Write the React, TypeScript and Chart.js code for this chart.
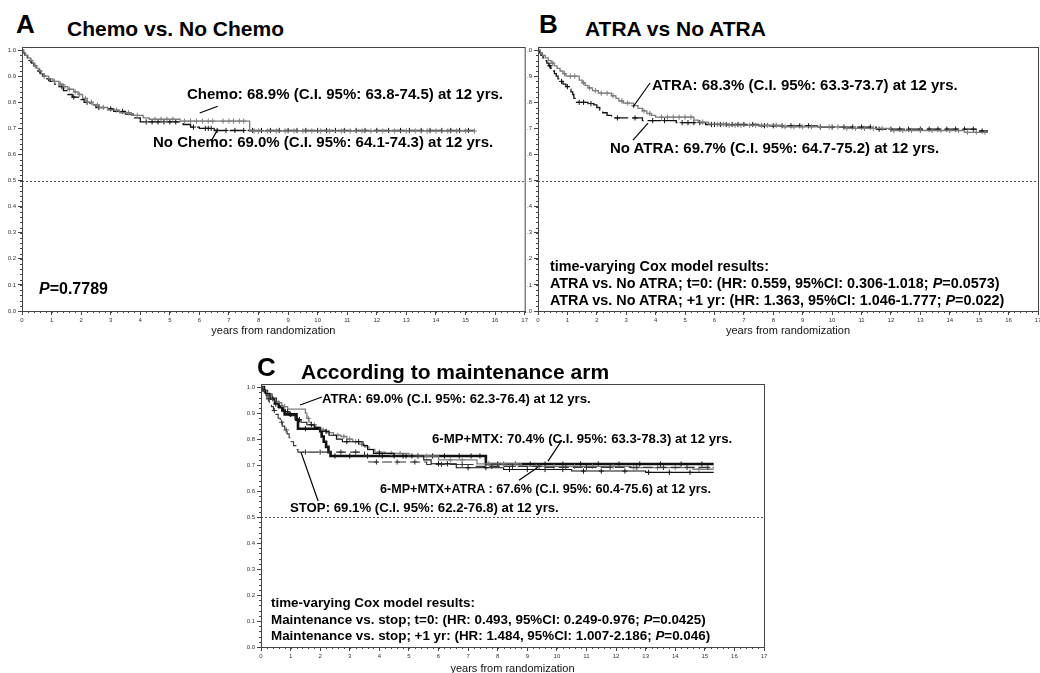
import React, { useEffect, useRef } from 'react';
import { Chart, registerables } from 'chart.js';

Chart.register(...registerables);

const FONT = '"Liberation Sans", Arial, Helvetica, sans-serif';

// ---- shared axes ----
const xTicks = [0, 1, 2, 3, 4, 5, 6, 7, 8, 9, 10, 11, 12, 13, 14, 15, 16, 17];
const yTicks = [0, 0.1, 0.2, 0.3, 0.4, 0.5, 0.6, 0.7, 0.8, 0.9, 1.0];
const Y_MAX = 1.012;
const REF_LINE = 0.5;

// ---- Panel A: Chemo vs. No Chemo ----
const chemoTimes = [0.06, 0.12, 0.2, 0.28, 0.35, 0.42, 0.5, 0.58, 0.65, 0.75, 0.9, 1.05, 1.25, 1.4, 1.55, 1.75, 1.9, 2.05, 2.2, 2.4, 2.6, 2.9, 3.3, 3.7, 4.1, 4.3, 5.35, 7.7];
const chemoSurv = [0.99, 0.98, 0.97, 0.96, 0.95, 0.94, 0.93, 0.92, 0.91, 0.9, 0.89, 0.88, 0.87, 0.86, 0.85, 0.84, 0.83, 0.815, 0.8, 0.79, 0.78, 0.77, 0.76, 0.75, 0.74, 0.735, 0.728, 0.69];
const chemoCensored = [0.45, 0.75, 1.1, 1.3, 1.45, 1.6, 1.8, 1.95, 2.15, 2.35, 2.55, 2.75, 3.2, 3.6, 3.9, 4.5, 4.7, 4.9, 5.1, 5.5, 5.7, 5.9, 6.1, 6.3, 6.45, 6.8, 7.0, 7.15, 7.35, 7.5, 7.85, 8.0, 8.3, 8.6, 8.9, 9.2, 9.5, 9.8, 10.1, 10.4, 10.8, 11.1, 11.5, 11.8, 12.2, 12.6, 13.0, 13.3, 13.7, 14.0, 14.4, 14.7, 15.0, 15.3];
const noChemoTimes = [0.05, 0.1, 0.18, 0.25, 0.32, 0.4, 0.48, 0.55, 0.62, 0.7, 0.8, 0.95, 1.1, 1.25, 1.4, 1.55, 1.7, 1.9, 2.1, 2.3, 2.5, 2.8, 3.1, 3.5, 3.8, 4.0, 5.45, 5.7, 6.0, 6.5];
const noChemoSurv = [0.99, 0.98, 0.97, 0.96, 0.95, 0.94, 0.93, 0.92, 0.91, 0.9, 0.89, 0.88, 0.87, 0.86, 0.845, 0.83, 0.82, 0.81, 0.8, 0.79, 0.78, 0.775, 0.765, 0.755, 0.74, 0.725, 0.715, 0.705, 0.7, 0.692];
const noChemoCensored = [0.3, 0.6, 0.9, 1.35, 1.75, 2.2, 2.6, 3.0, 3.4, 4.2, 4.4, 4.6, 4.8, 5.0, 5.2, 5.8, 6.2, 6.3, 6.4, 6.6, 6.9, 7.2, 7.5, 7.8, 8.1, 8.4, 8.7, 9.0, 9.3, 9.6, 10.0, 10.3, 10.6, 10.9, 11.3, 11.6, 12.0, 12.4, 12.8, 13.1, 13.5, 13.8, 14.2, 14.5, 14.8, 15.1];

// ---- Panel B: ATRA vs No ATRA ----
const atraTimes = [0.08, 0.15, 0.25, 0.35, 0.45, 0.55, 0.65, 0.75, 0.85, 0.95, 1.4, 1.5, 1.6, 1.7, 1.85, 2.05, 2.5, 2.65, 2.75, 2.9, 3.25, 3.4, 3.55, 3.7, 3.85, 4.0, 5.3, 5.45, 5.8, 6.5, 8.3, 10.5, 12.0, 14.5];
const atraSurv = [0.99, 0.98, 0.97, 0.96, 0.95, 0.94, 0.93, 0.92, 0.91, 0.9, 0.885, 0.875, 0.865, 0.855, 0.845, 0.835, 0.825, 0.815, 0.805, 0.797, 0.787, 0.777, 0.767, 0.757, 0.75, 0.743, 0.732, 0.724, 0.716, 0.712, 0.706, 0.7, 0.692, 0.685];
const atraCensored = [0.5, 0.9, 1.1, 1.25, 1.55, 1.75, 1.95, 2.15, 2.35, 2.55, 2.85, 3.05, 3.25, 3.6, 3.8, 4.2, 4.4, 4.6, 4.8, 5.0, 5.2, 5.6, 6.1, 6.3, 6.5, 6.7, 6.9, 7.2, 7.4, 7.6, 7.8, 8.1, 8.4, 8.7, 9.0, 9.3, 9.6, 9.9, 10.2, 10.5, 10.8, 11.1, 11.4, 11.7, 12.1, 12.4, 12.7, 13.0, 13.4, 13.7, 14.0, 14.3, 14.6, 14.9, 15.2];
const noAtraTimes = [0.05, 0.1, 0.17, 0.23, 0.3, 0.37, 0.43, 0.5, 0.56, 0.62, 0.68, 0.75, 0.85, 0.95, 1.05, 1.12, 1.18, 1.22, 1.26, 1.7, 1.9, 2.0, 2.1, 2.2, 2.35, 2.5, 3.55, 4.7, 5.7, 7.5, 9.5, 11.5, 14.9];
const noAtraSurv = [0.99, 0.98, 0.97, 0.96, 0.95, 0.94, 0.93, 0.92, 0.91, 0.9, 0.89, 0.88, 0.87, 0.86, 0.85, 0.84, 0.83, 0.815, 0.8, 0.795, 0.79, 0.78, 0.77, 0.76, 0.75, 0.74, 0.73, 0.722, 0.715, 0.71, 0.705, 0.697, 0.69];
const noAtraCensored = [0.4, 0.8, 1.0, 1.4, 1.55, 1.8, 2.7, 3.3, 3.9, 4.3, 4.9, 5.1, 5.3, 5.5, 5.9, 6.0, 6.2, 6.4, 6.6, 6.8, 7.0, 7.3, 7.7, 8.0, 8.3, 8.6, 8.9, 9.2, 9.6, 10.0, 10.4, 10.7, 11.0, 11.3, 11.6, 12.0, 12.3, 12.6, 13.0, 13.3, 13.6, 13.9, 14.2, 14.5, 14.8, 15.1];

// ---- Panel C: according to maintenance arm ----
const mpTimes = [0.1, 0.2, 0.35, 0.5, 0.6, 0.72, 0.8, 1.2, 1.25, 2.0, 2.05, 2.12, 2.2, 2.28, 2.35, 7.6];
const mpSurv = [0.985, 0.97, 0.955, 0.94, 0.925, 0.91, 0.895, 0.875, 0.84, 0.83, 0.81, 0.79, 0.77, 0.75, 0.735, 0.704];
const mpCensored = [0.4, 1.0, 1.5, 2.5, 3.0, 3.6, 4.1, 4.5, 4.9, 5.3, 5.8, 6.2, 6.7, 7.1, 7.4, 8.0, 8.6, 9.1, 9.6, 10.2, 10.8, 11.4, 12.1, 12.8, 13.5, 14.2, 14.9];
const cAtraTimes = [0.08, 0.2, 0.35, 0.5, 0.7, 0.9, 1.5, 1.55, 1.62, 1.7, 1.85, 2.0, 2.2, 2.45, 2.7, 2.9, 3.1, 3.3, 3.5, 3.65, 3.85, 4.2, 5.0, 6.0, 7.3, 8.8, 12.5, 14.6];
const cAtraSurv = [0.985, 0.97, 0.955, 0.94, 0.925, 0.915, 0.9, 0.88, 0.865, 0.855, 0.845, 0.835, 0.825, 0.815, 0.81, 0.8, 0.79, 0.78, 0.77, 0.76, 0.75, 0.745, 0.735, 0.72, 0.705, 0.695, 0.69, 0.684];
const cAtraCensored = [0.3, 0.6, 0.8, 1.6, 1.8, 2.1, 2.3, 2.6, 2.8, 3.0, 3.2, 3.4, 4.0, 4.4, 4.7, 5.3, 5.6, 6.4, 6.8, 7.7, 8.2, 8.6, 9.3, 9.9, 10.6, 11.2, 11.9, 12.6, 13.4, 14.0, 14.8];
const mmaTimes = [0.06, 0.15, 0.3, 0.45, 0.6, 0.75, 0.95, 1.15, 1.35, 1.55, 1.8, 2.0, 2.3, 2.55, 2.75, 3.45, 3.6, 3.8, 4.5, 5.5, 5.75, 6.6, 8.2, 10.5, 13.0];
const mmaSurv = [0.99, 0.975, 0.955, 0.935, 0.92, 0.905, 0.89, 0.875, 0.865, 0.855, 0.845, 0.83, 0.815, 0.8, 0.79, 0.775, 0.76, 0.745, 0.735, 0.72, 0.705, 0.69, 0.683, 0.677, 0.672];
const mmaCensored = [0.5, 0.9, 1.3, 1.7, 2.2, 2.9, 3.3, 4.0, 4.8, 5.1, 6.0, 6.3, 7.0, 7.6, 8.4, 9.0, 9.6, 10.2, 10.9, 11.5, 12.3, 13.1, 13.8, 14.5];
const stopTimes = [0.05, 0.12, 0.2, 0.28, 0.35, 0.42, 0.5, 0.58, 0.65, 0.72, 0.8, 0.88, 0.95, 1.02, 1.1, 1.18, 1.25, 3.5, 3.65, 5.6, 7.2, 9.5];
const stopSurv = [0.985, 0.97, 0.955, 0.94, 0.925, 0.91, 0.895, 0.88, 0.865, 0.85, 0.835, 0.82, 0.805, 0.79, 0.775, 0.76, 0.75, 0.735, 0.712, 0.702, 0.695, 0.691];
const stopCensored = [0.25, 0.45, 0.7, 0.85, 1.5, 2.0, 2.7, 3.2, 3.9, 4.6, 5.2, 6.1, 6.8, 7.8, 8.5, 9.4, 10.3, 11.0, 11.8, 12.7, 13.6, 14.4, 15.1];

const FOLLOW_UP_END = 15.3;

type Curve = {
  times: number[];
  surv: number[];
  censored: number[];
  color: string;
  width: number;
  dash: number[];
};

// pointer segments: [t1, s1, t2, s2] in data units
type Pointer = [number, number, number, number];

function stepPoints(times: number[], surv: number[]) {
  const pts = [{ x: 0, y: 1 }];
  times.forEach((t, i) => pts.push({ x: t, y: surv[i] }));
  pts.push({ x: FOLLOW_UP_END, y: surv[surv.length - 1] });
  return pts;
}

function survivalAt(times: number[], surv: number[], t: number) {
  let s = 1;
  for (let i = 0; i < times.length; i++) if (times[i] <= t) s = surv[i];
  return s;
}

const GREY = '#7c7c7c';
const BLACK = '#111111';

const decorPlugin = {
  id: 'kmDecor',
  beforeDatasetsDraw(chart: any) {
    const { ctx, chartArea: a, scales } = chart;
    const y = scales.y.getPixelForValue(REF_LINE);
    ctx.save();
    ctx.strokeStyle = '#555';
    ctx.lineWidth = 1;
    ctx.setLineDash([2, 2]);
    ctx.beginPath();
    ctx.moveTo(a.left, Math.round(y) + 0.5);
    ctx.lineTo(a.right, Math.round(y) + 0.5);
    ctx.stroke();
    ctx.setLineDash([]);
    // minor ticks
    ctx.strokeStyle = '#444';
    ctx.beginPath();
    for (let v = 0; v <= 17.001; v += 0.2) {
      const px = Math.round(scales.x.getPixelForValue(v)) + 0.5;
      ctx.moveTo(px, a.bottom);
      ctx.lineTo(px, a.bottom + 2);
    }
    for (let v = 0; v <= 1.0001; v += 0.02) {
      const py = Math.round(scales.y.getPixelForValue(v)) + 0.5;
      ctx.moveTo(a.left, py);
      ctx.lineTo(a.left - 2, py);
    }
    ctx.stroke();
    ctx.restore();
  },
  afterDraw(chart: any, _args: any, opts: any) {
    const { ctx, chartArea: a, scales } = chart;
    ctx.save();
    ctx.strokeStyle = '#444';
    ctx.lineWidth = 1;
    ctx.strokeRect(a.left + 0.5, a.top + 0.5, a.right - a.left, a.bottom - a.top);
    ctx.strokeStyle = '#000';
    ctx.lineWidth = 1.2;
    (opts.pointers || []).forEach((p: Pointer) => {
      ctx.beginPath();
      ctx.moveTo(scales.x.getPixelForValue(p[0]), scales.y.getPixelForValue(p[1]));
      ctx.lineTo(scales.x.getPixelForValue(p[2]), scales.y.getPixelForValue(p[3]));
      ctx.stroke();
    });
    ctx.restore();
  },
};

type PanelProps = {
  left: number;
  top: number;
  width: number;
  height: number;
  yAxisW: number;
  padTop: number;
  padRight: number;
  xAxisH: number;
  titlePad: number;
  curves: Curve[];
  pointers: Pointer[];
};

function KMPanel(p: PanelProps) {
  const ref = useRef<HTMLCanvasElement>(null);
  useEffect(() => {
    const datasets: any[] = [];
    p.curves.forEach((c) => {
      datasets.push({
        data: stepPoints(c.times, c.surv),
        stepped: 'before',
        borderColor: c.color,
        borderWidth: c.width,
        borderDash: c.dash,
        pointRadius: 0,
        fill: false,
      });
      datasets.push({
        data: c.censored.map((t) => ({ x: t, y: survivalAt(c.times, c.surv, t) })),
        showLine: false,
        pointStyle: 'cross',
        pointRadius: 2.6,
        pointBorderWidth: 1,
        pointBorderColor: c.color,
        borderColor: c.color,
      });
    });
    const tickFont = { family: FONT, size: 6 };
    const chart = new Chart(ref.current as HTMLCanvasElement, {
      type: 'line',
      data: { datasets },
      plugins: [decorPlugin],
      options: {
        animation: false,
        responsive: false,
        maintainAspectRatio: false,
        layout: { padding: { top: p.padTop, right: p.padRight, left: 0, bottom: 0 } },
        plugins: {
          legend: { display: false },
          tooltip: { enabled: false },
          kmDecor: { pointers: p.pointers },
        } as any,
        scales: {
          x: {
            type: 'linear',
            min: 0,
            max: 17,
            afterBuildTicks: (s: any) => {
              s.ticks = xTicks.map((v) => ({ value: v }));
            },
            afterFit: (s: any) => {
              s.height = p.xAxisH;
            },
            ticks: {
              font: tickFont,
              color: '#333',
              padding: 2,
              maxRotation: 0,
              autoSkip: false,
              callback: (v: any) => String(v),
            },
            grid: { drawOnChartArea: false, tickLength: 4, color: '#444' },
            border: { color: '#444', width: 1 },
            title: {
              display: true,
              text: 'years from randomization',
              font: { family: FONT, size: 11 },
              color: '#111',
              padding: { top: 0, bottom: p.titlePad },
            },
          },
          y: {
            type: 'linear',
            min: 0,
            max: Y_MAX,
            afterBuildTicks: (s: any) => {
              s.ticks = yTicks.map((v) => ({ value: v }));
            },
            afterFit: (s: any) => {
              s.width = p.yAxisW;
            },
            ticks: {
              font: tickFont,
              color: '#333',
              padding: 2,
              callback: (v: any) => Number(v).toFixed(1),
            },
            grid: { drawOnChartArea: false, tickLength: 4, color: '#444' },
            border: { color: '#444', width: 1 },
          },
        },
      } as any,
    });
    return () => chart.destroy();
  }, []);
  return (
    <canvas
      ref={ref}
      width={p.width}
      height={p.height}
      style={{ position: 'absolute', left: p.left, top: p.top, width: p.width, height: p.height }}
    />
  );
}

function Txt(props: { x: number; y: number; size: number; children: React.ReactNode; weight?: number }) {
  const { x, y, size, children, weight = 700 } = props;
  return (
    <div
      style={{
        position: 'absolute',
        left: x,
        top: y - size * 0.49,
        fontSize: size,
        lineHeight: `${size}px`,
        fontWeight: weight,
        whiteSpace: 'nowrap',
        color: '#000',
      }}
    >
      {children}
    </div>
  );
}

const curvesA: Curve[] = [
  { times: chemoTimes, surv: chemoSurv, censored: chemoCensored, color: GREY, width: 1.3, dash: [] },
  { times: noChemoTimes, surv: noChemoSurv, censored: noChemoCensored, color: BLACK, width: 1.3, dash: [14, 4] },
];
const curvesB: Curve[] = [
  { times: atraTimes, surv: atraSurv, censored: atraCensored, color: GREY, width: 1.3, dash: [] },
  { times: noAtraTimes, surv: noAtraSurv, censored: noAtraCensored, color: BLACK, width: 1.3, dash: [14, 4] },
];
const curvesC: Curve[] = [
  { times: stopTimes, surv: stopSurv, censored: stopCensored, color: '#333', width: 1.1, dash: [10, 4] },
  { times: mmaTimes, surv: mmaSurv, censored: mmaCensored, color: BLACK, width: 1.1, dash: [] },
  { times: cAtraTimes, surv: cAtraSurv, censored: cAtraCensored, color: GREY, width: 1.3, dash: [] },
  { times: mpTimes, surv: mpSurv, censored: mpCensored, color: BLACK, width: 2.6, dash: [] },
];

const pointersA: Pointer[] = [
  [6.01, 0.759, 6.62, 0.785],
  [6.62, 0.697, 6.42, 0.655],
];
const pointersB: Pointer[] = [
  [3.81, 0.874, 3.23, 0.782],
  [3.74, 0.72, 3.23, 0.655],
];
const pointersC: Pointer[] = [
  [2.06, 0.962, 1.32, 0.931],
  [10.17, 0.796, 9.7, 0.715],
  [9.36, 0.692, 8.72, 0.642],
  [1.35, 0.75, 1.93, 0.562],
];

export default function App() {
  return (
    <div
      style={{
        position: 'absolute',
        left: 0,
        top: 0,
        width: 1040,
        height: 673,
        overflow: 'hidden',
        background: '#fff',
        fontFamily: FONT,
      }}
    >
      <KMPanel left={0} top={40} width={530} height={300} yAxisW={22} padTop={7} padRight={5} xAxisH={29} titlePad={2} curves={curvesA} pointers={pointersA} />
      <KMPanel left={527} top={40} width={520} height={300} yAxisW={11} padTop={7} padRight={9} xAxisH={29} titlePad={2} curves={curvesB} pointers={pointersB} />
      <KMPanel left={240} top={378} width={540} height={300} yAxisW={21} padTop={6} padRight={16} xAxisH={31} titlePad={2} curves={curvesC} pointers={pointersC} />

      <Txt x={16} y={24} size={26}>A</Txt>
      <Txt x={67} y={28} size={21}>Chemo vs. No Chemo</Txt>
      <Txt x={539} y={24} size={26}>B</Txt>
      <Txt x={585} y={28} size={21}>ATRA vs No ATRA</Txt>
      <Txt x={257} y={367} size={26}>C</Txt>
      <Txt x={301} y={371} size={21}>According to maintenance arm</Txt>

      <Txt x={187} y={93} size={15}>Chemo: 68.9% (C.I. 95%: 63.8-74.5) at 12 yrs.</Txt>
      <Txt x={153} y={141} size={15}>No Chemo: 69.0% (C.I. 95%: 64.1-74.3) at 12 yrs.</Txt>
      <Txt x={39} y={289} size={16}><i>P</i>=0.7789</Txt>

      <Txt x={652} y={84} size={15}>ATRA: 68.3% (C.I. 95%: 63.3-73.7) at 12 yrs.</Txt>
      <Txt x={610} y={147} size={15}>No ATRA: 69.7% (C.I. 95%: 64.7-75.2) at 12 yrs.</Txt>
      <Txt x={550} y={266} size={14.4}>time-varying Cox model results:</Txt>
      <Txt x={550} y={283} size={14.4}>ATRA vs. No ATRA; t=0: (HR: 0.559, 95%CI: 0.306-1.018; <i>P</i>=0.0573)</Txt>
      <Txt x={550} y={300} size={14.4}>ATRA vs. No ATRA; +1 yr: (HR: 1.363, 95%CI: 1.046-1.777; <i>P</i>=0.022)</Txt>

      <Txt x={322} y={398} size={13.2}>ATRA: 69.0% (C.I. 95%: 62.3-76.4) at 12 yrs.</Txt>
      <Txt x={432} y={438} size={13.2}>6-MP+MTX: 70.4% (C.I. 95%: 63.3-78.3) at 12 yrs.</Txt>
      <Txt x={380} y={489} size={12.6}>6-MP+MTX+ATRA : 67.6% (C.I. 95%: 60.4-75.6) at 12 yrs.</Txt>
      <Txt x={290} y={507} size={13.2}>STOP: 69.1% (C.I. 95%: 62.2-76.8) at 12 yrs.</Txt>
      <Txt x={271} y={603} size={13.4}>time-varying Cox model results:</Txt>
      <Txt x={271} y={620} size={13.4}>Maintenance vs. stop; t=0: (HR: 0.493, 95%CI: 0.249-0.976; <i>P</i>=0.0425)</Txt>
      <Txt x={271} y={636} size={13.4}>Maintenance vs. stop; +1 yr: (HR: 1.484, 95%CI: 1.007-2.186; <i>P</i>=0.046)</Txt>
    </div>
  );
}
